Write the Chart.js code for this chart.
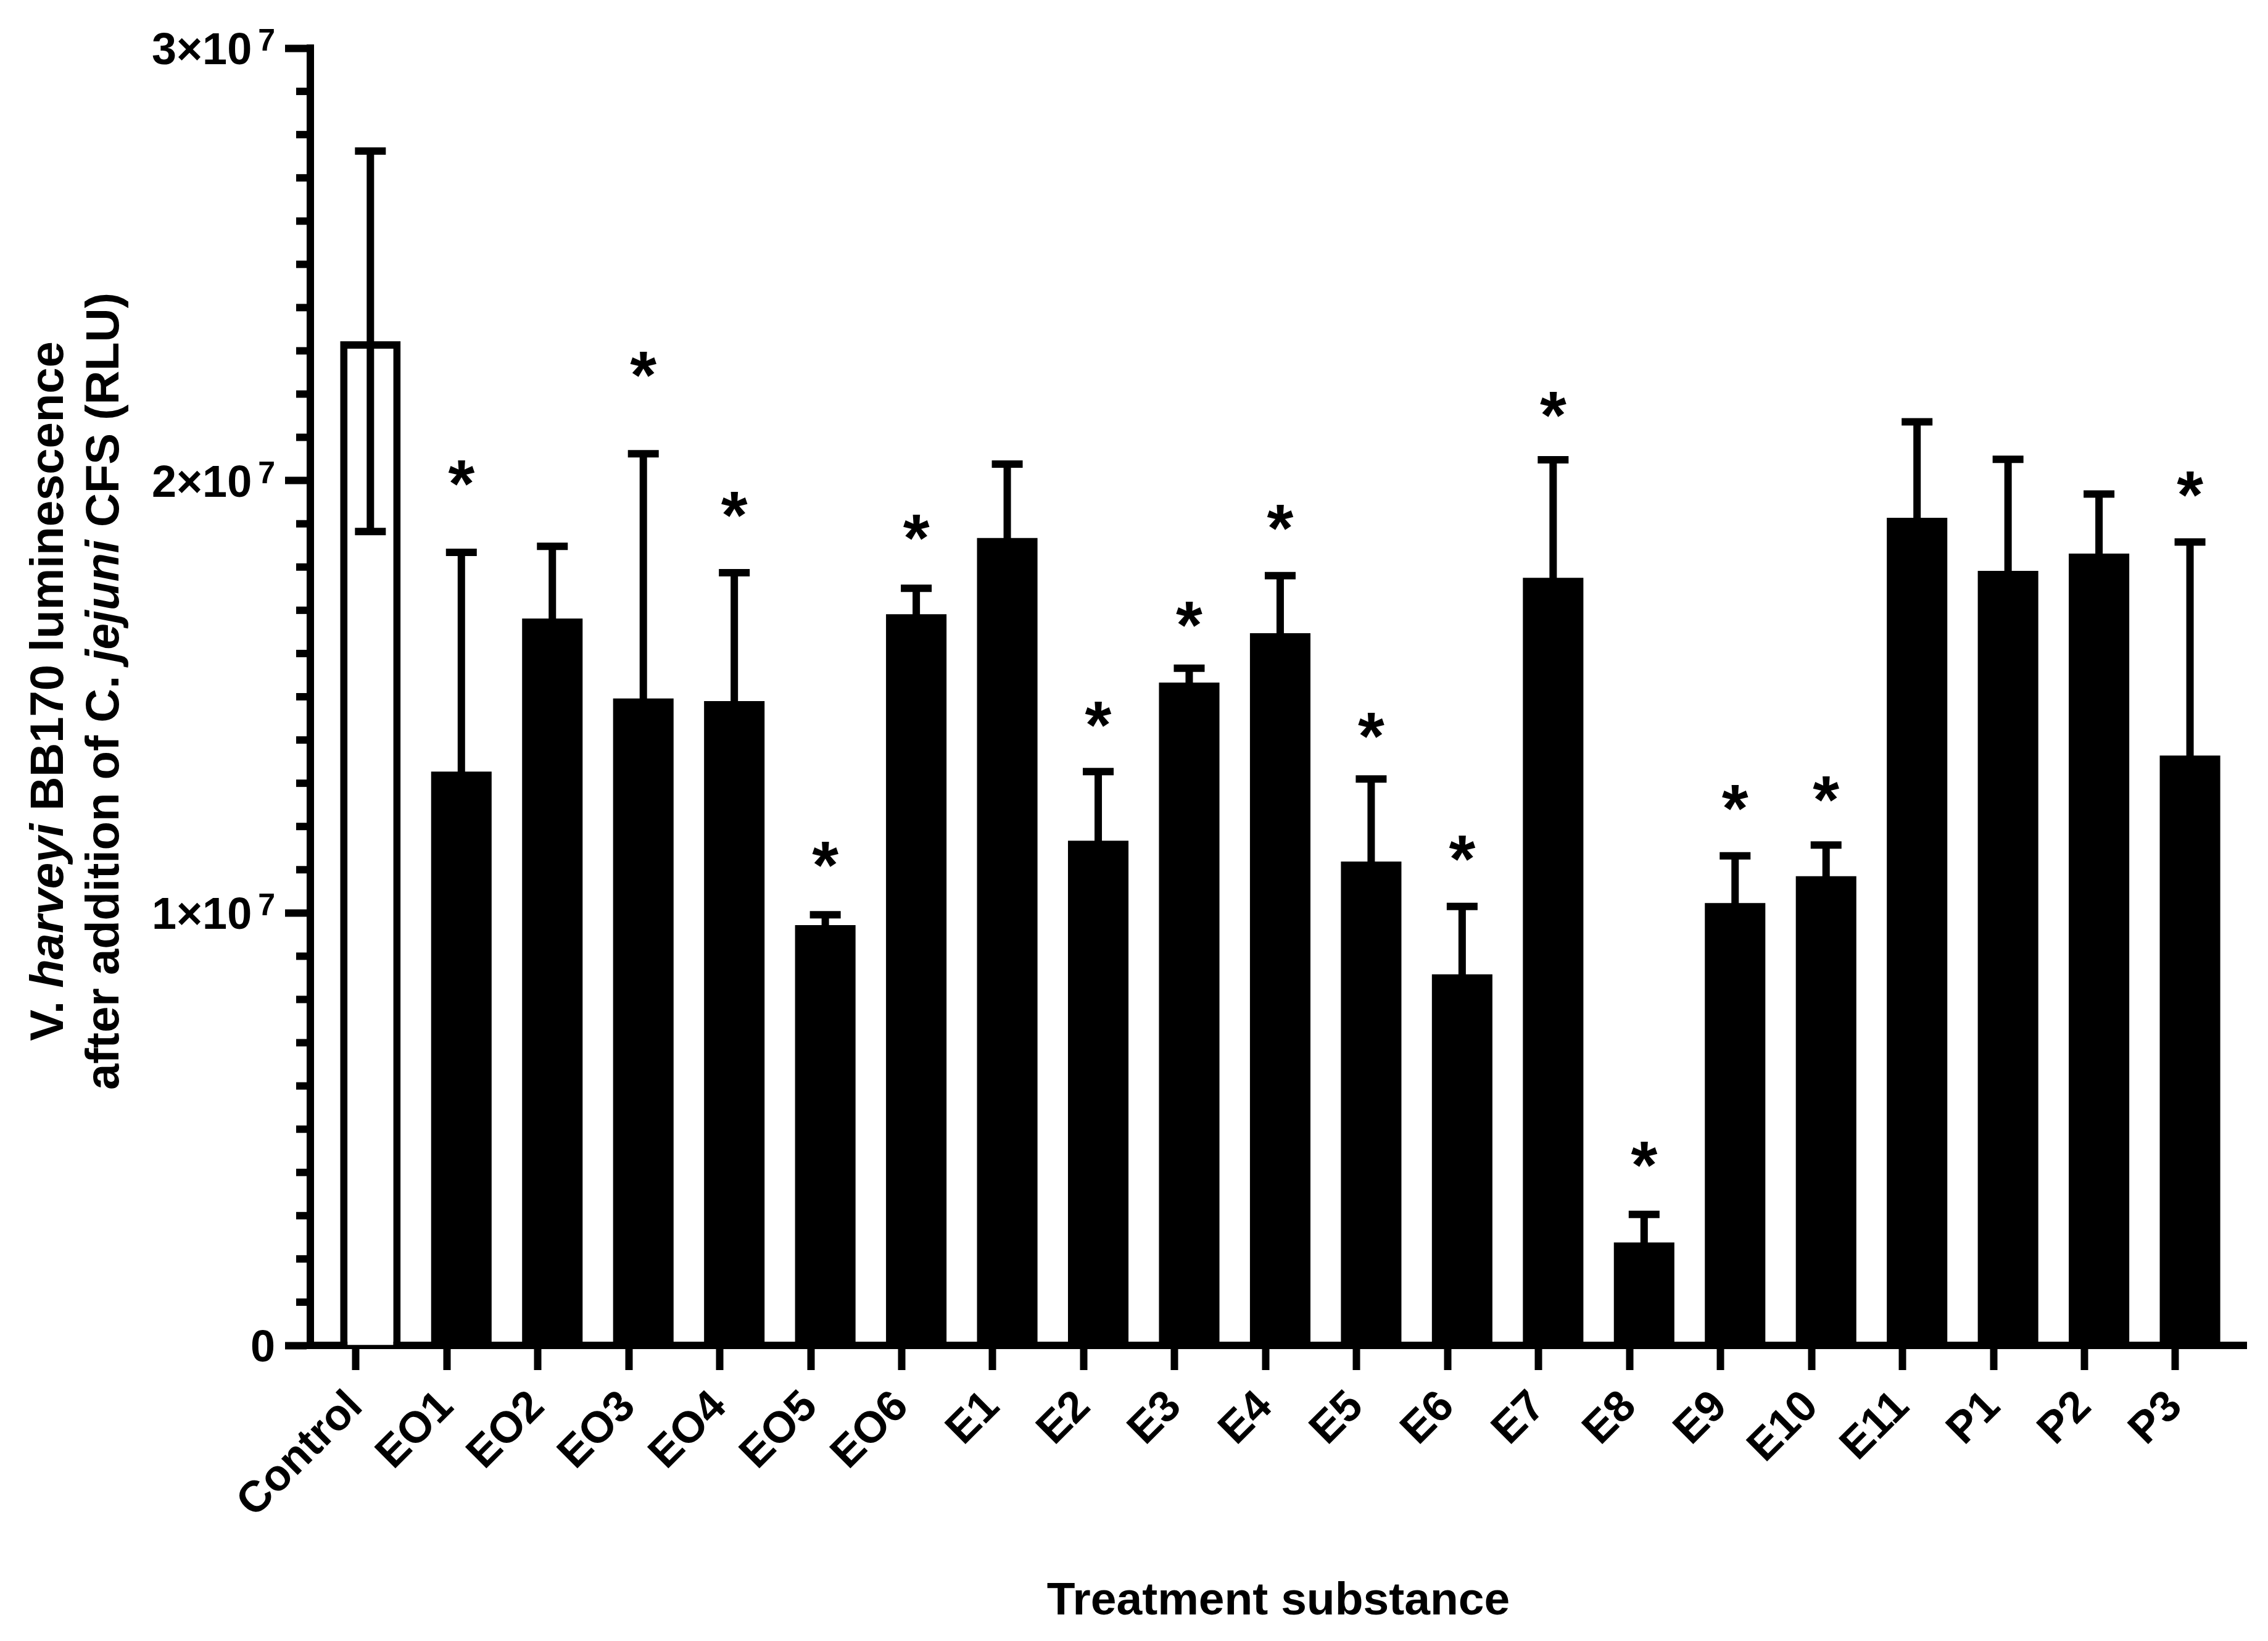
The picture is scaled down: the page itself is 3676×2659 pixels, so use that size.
<!DOCTYPE html>
<html>
<head>
<meta charset="utf-8">
<script src="https://cdn.jsdelivr.net/npm/chart.js@4.4.0/dist/chart.umd.min.js"></script>
<style>
  html, body { margin: 0; padding: 0; background: #fff; }
  #wrap { width: 3676px; height: 2659px; }
</style>
</head>
<body>
<div id="wrap"><canvas id="chart" width="3676" height="2659"></canvas></div>
<script>
// values (RLU)
const treatments = ['Control','EO1','EO2','EO3','EO4','EO5','EO6','E1','E2','E3','E4','E5','E6','E7','E8','E9','E10','E11','P1','P2','P3'];
const means = [2.322e7, 1.327e7, 1.681e7, 1.496e7, 1.490e7, 0.972e7, 1.691e7, 1.867e7, 1.167e7, 1.533e7, 1.647e7,
               1.119e7, 0.858e7, 1.775e7, 0.238e7, 1.023e7, 1.085e7, 1.914e7, 1.791e7, 1.831e7, 1.364e7];
const sds = [0.440e7, 0.507e7, 0.167e7, 0.566e7, 0.297e7, 0.024e7, 0.060e7, 0.171e7, 0.160e7, 0.033e7, 0.133e7,
             0.191e7, 0.157e7, 0.273e7, 0.065e7, 0.109e7, 0.072e7, 0.222e7, 0.258e7, 0.138e7, 0.494e7];
// height of the significance star (null = not significant)
const starAt = [null, 2.017e7, null, 2.268e7, 1.944e7, 1.135e7, 1.892e7, null, 1.459e7, 1.691e7, 1.914e7,
                1.433e7, 1.150e7, 2.176e7, 0.442e7, 1.266e7, 1.287e7, null, null, null, 1.991e7];
const yMajor = [0, 1e7, 2e7, 3e7];
const yMinorStep = 1e6;

const FONT = '"Liberation Sans", Arial, sans-serif';
const barShift = 0.16; // bars sit slightly right of their tick in the original

const errorBars = {
  id: 'errorBars',
  afterDatasetsDraw(chart){
    const {ctx, scales:{y}} = chart;
    const bars = chart.getDatasetMeta(0).data;
    ctx.save();
    ctx.strokeStyle = '#000';
    ctx.lineWidth = 12;
    ctx.lineCap = 'butt';
    bars.forEach((b, i) => {
      const hi = y.getPixelForValue(means[i] + sds[i]);
      const lo = y.getPixelForValue(means[i] - sds[i]);
      ctx.beginPath();
      ctx.moveTo(b.x, lo); ctx.lineTo(b.x, hi);
      ctx.moveTo(b.x - 25, hi); ctx.lineTo(b.x + 25, hi);
      ctx.moveTo(b.x - 25, lo); ctx.lineTo(b.x + 25, lo);
      ctx.stroke();
    });
    ctx.restore();
  }
};

const stars = {
  id: 'stars',
  afterDatasetsDraw(chart){
    const {ctx, scales:{y}} = chart;
    const bars = chart.getDatasetMeta(0).data;
    ctx.save();
    ctx.fillStyle = '#000';
    ctx.font = 'bold 110px ' + FONT;
    ctx.textAlign = 'center';
    ctx.textBaseline = 'alphabetic';
    const m = ctx.measureText('*');
    const lift = (m.actualBoundingBoxAscent - m.actualBoundingBoxDescent) / 2;
    bars.forEach((b, i) => {
      if (starAt[i] == null) return;
      ctx.fillText('*', b.x, y.getPixelForValue(starAt[i]) + lift);
    });
    ctx.restore();
  }
};

// y labels as 3×10 with a real raised exponent
const yLabels = {
  id: 'yLabels',
  afterDraw(chart){
    const {ctx, chartArea:a, scales:{y}} = chart;
    const right = a.left - 41 - 16;
    ctx.save();
    ctx.fillStyle = '#000';
    ctx.textBaseline = 'alphabetic';
    ctx.textAlign = 'right';
    yMajor.forEach(v => {
      const py = y.getPixelForValue(v);
      const base = py + 26;
      if (v === 0) {
        ctx.font = 'bold 72px ' + FONT;
        ctx.fillText('0', right, base);
        return;
      }
      ctx.font = 'bold 50px ' + FONT;
      ctx.fillText('7', right, base - 22);
      const expW = ctx.measureText('7').width;
      ctx.font = 'bold 72px ' + FONT;
      ctx.fillText((v / 1e7) + '×10', right - expW - 10, base);
    });
    ctx.restore();
  }
};

const axisExtras = {
  id: 'axisExtras',
  afterDraw(chart){
    const {ctx, chartArea:a, scales:{y}} = chart;
    ctx.save();
    ctx.fillStyle = '#000';
    // minor ticks
    for (let v = yMinorStep; v < y.max; v += yMinorStep) {
      if (yMajor.includes(v)) continue;
      const py = y.getPixelForValue(v);
      ctx.fillRect(a.left - 6 - 17, py - 6, 17, 12);
    }
    // square off the axis corners
    ctx.fillRect(a.left - 6, a.top - 6, 12, 6);
    ctx.fillRect(a.left - 6, a.bottom, 12, 6);
    ctx.restore();
  }
};

const yTitleLines = [
  [['V. ', false], ['harveyi', true], [' BB170 luminescence', false]],
  [['after addition of C. ', false], ['jejuni', true], [' CFS (RLU)', false]]
];
const yTitle = {
  id: 'yTitle',
  afterDraw(chart){
    const {ctx, chartArea:a} = chart;
    const cy = (a.top + a.bottom) / 2 - 9;
    const baselines = [102, 192];
    ctx.save();
    ctx.fillStyle = '#000';
    ctx.textBaseline = 'alphabetic';
    ctx.textAlign = 'left';
    const fontFor = it => (it ? 'italic ' : '') + 'bold 76px ' + FONT;
    yTitleLines.forEach((segs, k) => {
      let total = 0;
      segs.forEach(([t, it]) => { ctx.font = fontFor(it); total += ctx.measureText(t).width; });
      ctx.save();
      ctx.translate(baselines[k], cy);
      ctx.rotate(-Math.PI / 2);
      let x = -total / 2;
      segs.forEach(([t, it]) => {
        ctx.font = fontFor(it);
        ctx.fillText(t, x, 0);
        x += ctx.measureText(t).width;
      });
      ctx.restore();
    });
    ctx.restore();
  }
};

new Chart(document.getElementById('chart').getContext('2d'), {
  type: 'bar',
  data: {
    datasets: [{
      data: means.map((m, i) => ({ x: i + barShift, y: m })),
      backgroundColor: treatments.map((t, i) => i === 0 ? '#fff' : '#000'),
      borderColor: '#000',
      borderWidth: treatments.map((t, i) => i === 0 ? 12 : 0),
      borderSkipped: 'bottom',
      barPercentage: 0.665,
      categoryPercentage: 1
    }]
  },
  options: {
    responsive: false,
    animation: false,
    devicePixelRatio: 1,
    layout: { padding: { top: 78, right: 35, left: 0, bottom: 0 } },
    plugins: { legend: { display: false }, tooltip: { enabled: false } },
    scales: {
      x: {
        type: 'linear', min: -0.5, max: 20.78, offset: false,
        afterBuildTicks: s => { s.ticks = treatments.map((t, i) => ({ value: i })); },
        afterFit: s => { s.height = 479; },
        grid: { drawOnChartArea: false, drawTicks: true, offset: false, tickLength: 40, tickWidth: 12, tickColor: '#000' },
        border: { display: true, color: '#000', width: 12 },
        ticks: {
          autoSkip: false, minRotation: 45, maxRotation: 45, padding: 18, color: '#000',
          font: { family: FONT, size: 71, weight: 'bold' },
          callback: v => treatments[v]
        },
        title: {
          display: true, text: 'Treatment substance', color: '#000',
          font: { family: FONT, size: 75, weight: 'bold' },
          padding: { top: 0, bottom: 19 }
        }
      },
      y: {
        min: 0, max: 3e7,
        afterBuildTicks: s => { s.ticks = yMajor.map(v => ({ value: v })); },
        afterFit: s => { s.width = 503; },
        grid: { drawOnChartArea: false, drawTicks: true, tickLength: 41, tickWidth: 12, tickColor: '#000' },
        border: { display: true, color: '#000', width: 12 },
        ticks: { display: false }
      }
    }
  },
  plugins: [errorBars, stars, axisExtras, yLabels, yTitle]
});
</script>
</body>
</html>
